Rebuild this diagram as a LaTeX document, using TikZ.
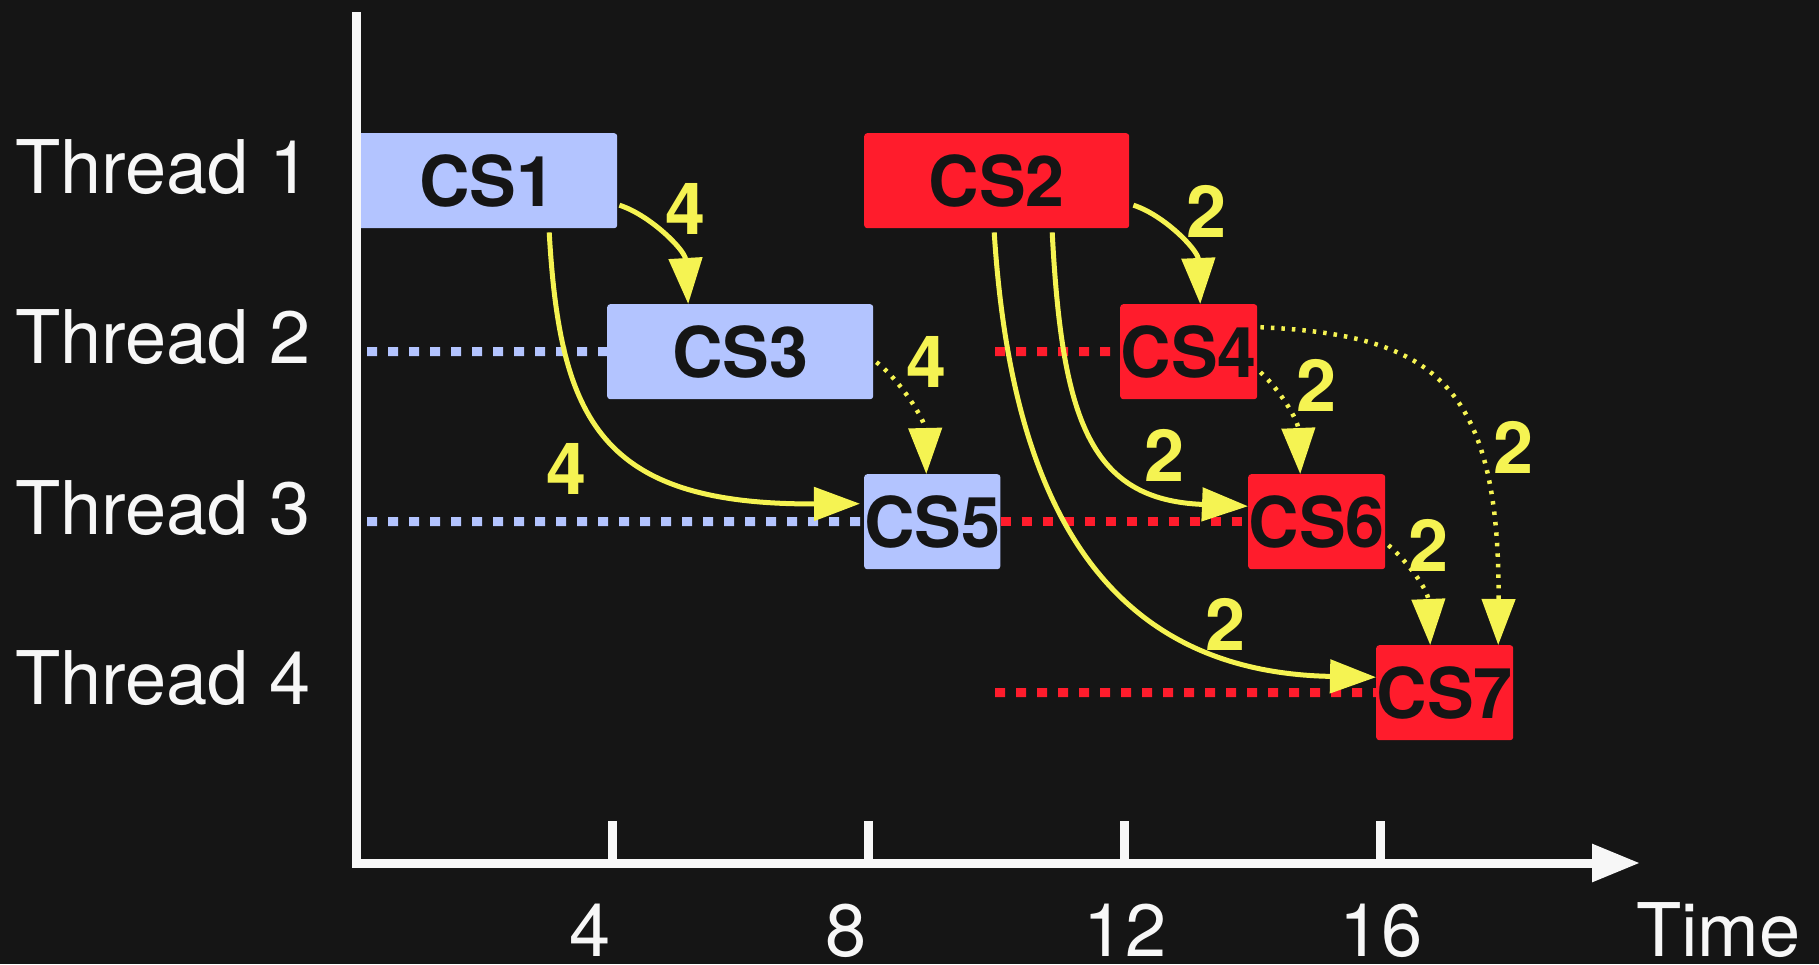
\documentclass[tikz,border=0pt]{standalone}
\usepackage{fontspec}
\setmainfont{TeX Gyre Heros}
\usetikzlibrary{arrows.meta}

\definecolor{bgc}{HTML}{151515}
\definecolor{lblue}{HTML}{B3C4FF}
\definecolor{hotred}{HTML}{FF1C2C}
\definecolor{lemon}{HTML}{F5F352}
\definecolor{chalk}{HTML}{F7F7F7}
\definecolor{ink}{HTML}{151515}

\pgfdeclarelayer{canvas}
\pgfdeclarelayer{waits}
\pgfsetlayers{canvas,waits,main}

\begin{document}
\begin{tikzpicture}[x=1pt, y=-1pt,
  csbox/.style={rectangle, rounded corners=3pt, inner sep=0pt, anchor=north west,
    minimum height=95pt, text=ink, font=\fontsize{70}{72}\selectfont\bfseries},
  lane/.style={text=chalk, anchor=base west, inner sep=0pt, font=\fontsize{74}{80}\selectfont},
  ticklab/.style={text=chalk, anchor=base, inner sep=0pt, font=\fontsize{74}{80}\selectfont},
  cost/.style={text=lemon, inner sep=0pt, font=\fontsize{72}{76}\selectfont\bfseries},
  axisline/.style={draw=chalk, line width=9pt},
  bluedots/.style={draw=lblue, line width=9pt, dash pattern=on 10pt off 11pt},
  reddots/.style={draw=hotred, line width=9pt, dash pattern=on 10pt off 11pt},
  flow/.style={draw=lemon, line width=5pt, -{Triangle[length=46pt,width=33pt]}},
  dep/.style={flow, line width=4.5pt, dash pattern=on 3.5pt off 7pt}
]
% canvas
\begin{pgfonlayer}{canvas}
\fill[bgc] (0,0) rectangle (1819,964);
\end{pgfonlayer}
\useasboundingbox (0,0) rectangle (1819,964);

% thread names
\node[lane] (t1) at (15,193) {Thread 1};
\node[lane] (t2) at (15,363) {Thread 2};
\node[lane] (t3) at (15,534) {Thread 3};
\node[lane] (t4) at (15,704) {Thread 4};

% critical sections
\node[csbox, fill=lblue, minimum width=260pt] (cs1) at (357,133) {CS1};
\node[csbox, fill=hotred, minimum width=265pt] (cs2) at (864,133) {CS2};
\node[csbox, fill=lblue, minimum width=266pt] (cs3) at (607,304) {CS3};
\node[csbox, fill=hotred, minimum width=137pt] (cs4) at (1120,304) {CS4};
\node[csbox, fill=lblue, minimum width=136pt] (cs5) at (864,474) {CS5};
\node[csbox, fill=hotred, minimum width=137pt] (cs6) at (1248,474) {CS6};
\node[csbox, fill=hotred, minimum width=137pt] (cs7) at (1376,645) {CS7};

% waiting periods (free ends)
\coordinate (w2b) at (367,351.5);
\coordinate (w3b) at (367,521.5);
\coordinate (w2r) at (995,351.5);
\coordinate (w4r) at (995,692.5);
\begin{pgfonlayer}{waits}
\draw[bluedots] (w2b) -- (cs3.west);
\draw[bluedots] (w3b) -- (cs5.west);
\draw[reddots] (w2r) -- (cs4.west);
\draw[reddots] (cs5.east) -- (cs6.west);
\draw[reddots] (w4r) -- (cs7.west);
\end{pgfonlayer}

% time axis
\coordinate (ytop) at (356,12);
\coordinate (orig) at (356,863);
\coordinate (xend) at (1640,863);
\draw[axisline, -{Triangle[length=48pt,width=36pt]}] (ytop) -- (orig) -- (xend);
\foreach \t in {4,8,12,16} {
  \draw[draw=chalk, line width=9pt] (356+64*\t,821) -- (356+64*\t,863);
}
\node[ticklab] (l4) at (590,956) {4};
\node[ticklab] (l8) at (846,956) {8};
\node[ticklab] (l12) at (1125,956) {12};
\node[ticklab] (l16) at (1381,956) {16};
\node[lane] (ltime) at (1636,956) {Time};

% lock hand-overs
\draw[flow] ([shift={(2,24.5)}]cs1.east) .. controls (650,215) and (685,250) .. ([shift={(-52,0)}]cs3.north);
\draw[flow] ([shift={(62,4)}]cs1.south) .. controls (560,420) and (600,505) .. ([shift={(-4,-18)}]cs5.west);
\draw[dep] ([shift={(3,10.5)}]cs3.east) .. controls (900,380) and (925,420) .. ([shift={(-6,0)}]cs5.north);

\draw[flow] ([shift={(4,24.5)}]cs2.east) .. controls (1164,215) and (1198,250) .. ([shift={(11.5,0)}]cs4.north);
\draw[flow] ([shift={(55.5,4)}]cs2.south) .. controls (1062,420) and (1090,500) .. ([shift={(0,-15.5)}]cs6.west);
\draw[flow] ([shift={(-2.5,4)}]cs2.south) .. controls (1010,480) and (1090,672) .. ([shift={(0,-15.5)}]cs7.west);
\draw[dep] ([shift={(3,20.5)}]cs4.east) .. controls (1280,390) and (1298,420) .. ([shift={(-16.5,0)}]cs6.north);
\draw[dep] ([shift={(3,-24.5)}]cs4.east) .. controls (1430,335) and (1500,380) .. ([shift={(53.5,0)}]cs7.north);
\draw[dep] ([shift={(3,23.5)}]cs6.east) .. controls (1408,562) and (1428,590) .. ([shift={(-14.5,0)}]cs7.north);

% hand-over costs
\node[cost] (c13) at (686,209) {4};
\node[cost] (c15) at (567,469) {4};
\node[cost] (c35) at (927,362) {4};
\node[cost] (c24) at (1206,211) {2};
\node[cost] (c26) at (1164,455) {2};
\node[cost] (c27) at (1225,624) {2};
\node[cost] (c46) at (1316,385) {2};
\node[cost] (c47) at (1513,447) {2};
\node[cost] (c67) at (1428,545) {2};
\end{tikzpicture}
\end{document}
